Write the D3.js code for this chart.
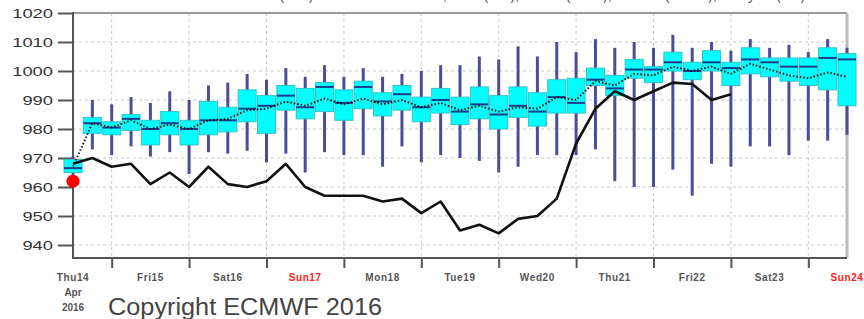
<!DOCTYPE html>
<html>
<head>
<meta charset="utf-8">
<script src="https://cdn.jsdelivr.net/npm/d3@7"></script>
<style>
  body { margin: 0; background: #fff; }
  svg { display: block; font-family: "Liberation Sans", Arial, sans-serif; }
</style>
</head>
<body>
<svg width="864" height="319"></svg>
<script>
// forecast steps (hours from Thu 14 Apr 12 UTC)
var steps = [0,6,12,18,24,30,36,42,48,54,60,66,72,78,84,90,96,102,108,114,120,
  126,132,138,144,150,156,162,168,174,180,186,192,198,204,210,216,222,228,234,240];

// ensemble box values (hPa)
var ensMin = [964,973,971,974,970.5,972,964.5,972,971.5,972.5,968.5,971.5,965,972,971,971,967,974,968.5,971,
  970,969,965,967,971,971,971,973,962,960,960,966,957,968,967,974,974,971,976,976,978];
var ensQ1 = [965,978.5,978,979.5,974.5,978,974.5,978,979,982.5,978.5,986.5,983.5,986,983,987,984.5,986.5,982.5,985.5,
  981.5,983.5,980,984,981,985.5,985.5,995,991.5,997.5,996,1000,997,1000,995,999,998,996.5,995,993.5,988];
var ensMed = [966.5,982,980.5,983.5,980,982,980,983,983,987,988,991.5,987.5,994.5,989,994.5,989.5,992,987.5,990,
  986,988.5,985,988,986,991,989,997,994,1000.5,1000.5,1003,1000,1003,1001,1004,1003,1001.5,1001.5,1004.5,1004];
var ensQ3 = [969.5,984,982.5,985,983,986,983,989.5,987.5,993.5,991.5,995,994,996,993.5,996.5,992.5,995,991,994,
  991,994.5,991.5,994.5,992.5,997,997.5,1001,998.5,1004,1001.5,1006.5,1003,1007,1003,1008,1004.5,1004.5,1004.5,1008,1006];
var ensMax = [970.5,990,988.5,991,989,993,990,995,996,999,997,1001,998,1002,998,1001,998,999,1000,1002,
  1002,1005,1004,1008.5,1005,1010,1006.5,1011,1008,1010,1008,1012.5,1008,1010,1007,1011,1008,1009,1006.5,1011,1008];
var ensMean = [967,982,980.5,983,980,981.5,980,983,983.5,986.5,987,989.5,988,990.5,988.5,990.5,988.5,990,987.5,989,
  986.5,988,986,987.5,987,991,990,996.5,995,999,998.5,1001.5,1000,1001.5,999,1002.5,1000.5,998.5,997.5,999.5,998];

// high resolution run (black line)
var hresSteps = steps.slice(0, 35);
var hres = [968,970,967,968,961,965,960,967,961,960,962,968,960,957,957,957,955,956,951,955,
  945,947,944,949,950,956,975,987,993,990,993,996,995.5,990,992];

// analysis (red dot)
var analysis = 962;

var yTicks = [940,950,960,970,980,990,1000,1010,1020];
var dayLabels = ["Thu14","Fri15","Sat16","Sun17","Mon18","Tue19","Wed20","Thu21","Fri22","Sat23","Sun24"];
var dayHours = [0,24,48,72,96,120,144,168,192,216,240];
var midnights = [12,36,60,84,108,132,156,180,204,228];

var svg = d3.select("svg");

var x = d3.scaleLinear().domain([0, 240]).range([73, 847]);
var y = d3.scaleLinear().domain([940, 1020]).range([245, 13]);
var yBottom = 258;

// title, mostly cut off above the picture (as in the original)
svg.append("text")
  .attr("x", 460).attr("y", 0)
  .attr("text-anchor", "middle")
  .attr("font-size", 14)
  .attr("fill", "#555")
  .text("Mean Sea Level Pressure (hPa) reduced to sea level, ENS (box), HRES (black), Control (dotted), Analysis (red)");

// grid
var grid = svg.append("g")
  .attr("stroke", "#c8c8c8")
  .attr("stroke-width", 1)
  .attr("stroke-dasharray", "3,3");
grid.selectAll(".hg")
  .data(yTicks.filter(function(d) { return d < 1020; }))
  .enter().append("line")
  .attr("x1", x(0)).attr("x2", x(240))
  .attr("y1", function(d) { return y(d); })
  .attr("y2", function(d) { return y(d); });
grid.selectAll(".vg")
  .data(midnights)
  .enter().append("line")
  .attr("y1", y(1020)).attr("y2", yBottom)
  .attr("x1", function(d) { return x(d); })
  .attr("x2", function(d) { return x(d); });

// frame
svg.append("line").attr("x1", x(0)).attr("x2", x(240)).attr("y1", y(1020)).attr("y2", y(1020))
  .attr("stroke", "#999").attr("stroke-width", 2);
svg.append("line").attr("x1", x(240)).attr("x2", x(240)).attr("y1", y(1020)).attr("y2", yBottom)
  .attr("stroke", "#bbb").attr("stroke-width", 3);

// y axis
var yAxis = svg.append("g").attr("transform", "translate(" + x(0) + ",0)")
  .call(d3.axisLeft(y).tickValues(yTicks).tickSize(15).tickPadding(5).tickFormat(d3.format("d")));
yAxis.select(".domain").remove();
yAxis.selectAll(".tick line").attr("stroke", "#555").attr("stroke-width", 2);
yAxis.selectAll(".tick text")
  .attr("font-family", "Liberation Sans, Arial, sans-serif")
  .attr("font-size", 13)
  .attr("fill", "#333")
  .attr("textLength", function(d) { return String(d).length * 10.2; })
  .attr("lengthAdjust", "spacingAndGlyphs");
svg.append("line").attr("x1", x(0)).attr("x2", x(0)).attr("y1", y(1020) - 1).attr("y2", yBottom + 1)
  .attr("stroke", "#555").attr("stroke-width", 2);

// x axis
var xAxis = svg.append("g").attr("transform", "translate(0," + yBottom + ")")
  .call(d3.axisBottom(x).tickValues(midnights).tickSize(10).tickFormat(""));
xAxis.select(".domain").remove();
xAxis.selectAll(".tick line").attr("stroke", "#555").attr("stroke-width", 2);
svg.append("line").attr("x1", x(0) - 1).attr("x2", x(240)).attr("y1", yBottom).attr("y2", yBottom)
  .attr("stroke", "#555").attr("stroke-width", 2);

svg.append("g").selectAll("text")
  .data(dayLabels)
  .enter().append("text")
  .attr("x", function(d, i) { return x(dayHours[i]); })
  .attr("y", 281)
  .attr("text-anchor", "middle")
  .attr("font-size", 10)
  .attr("font-weight", "bold")
  .attr("letter-spacing", 0.6)
  .attr("fill", function(d) { return d.indexOf("Sun") == 0 ? "#f22" : "#555"; })
  .text(function(d) { return d; });
svg.append("text").attr("x", x(0)).attr("y", 296).attr("text-anchor", "middle")
  .attr("font-size", 10).attr("font-weight", "bold").attr("fill", "#555").text("Apr");
svg.append("text").attr("x", x(0)).attr("y", 311).attr("text-anchor", "middle")
  .attr("font-size", 10).attr("font-weight", "bold").attr("fill", "#555").text("2016");

// whiskers
var boxW = 18;
svg.append("g").selectAll("line")
  .data(steps)
  .enter().append("line")
  .attr("x1", function(d) { return x(d); })
  .attr("x2", function(d) { return x(d); })
  .attr("y1", function(d, i) { return y(ensMax[i]); })
  .attr("y2", function(d, i) { return y(ensMin[i]); })
  .attr("stroke", "#4c4c98")
  .attr("stroke-width", 3);

// boxes
svg.append("g").selectAll("rect")
  .data(steps)
  .enter().append("rect")
  .attr("x", function(d) { return x(d) - boxW / 2; })
  .attr("width", boxW)
  .attr("y", function(d, i) { return y(ensQ3[i]); })
  .attr("height", function(d, i) { return y(ensQ1[i]) - y(ensQ3[i]); })
  .attr("fill", "#00ffff")
  .attr("stroke", "#33c4c4")
  .attr("stroke-width", 1);

// medians
svg.append("g").selectAll("line")
  .data(steps)
  .enter().append("line")
  .attr("x1", function(d) { return x(d) - boxW / 2; })
  .attr("x2", function(d) { return x(d) + boxW / 2; })
  .attr("y1", function(d, i) { return y(ensMed[i]); })
  .attr("y2", function(d, i) { return y(ensMed[i]); })
  .attr("stroke", "#1c3c8c")
  .attr("stroke-width", 2);

// hres line
svg.append("path")
  .datum(hres)
  .attr("fill", "none")
  .attr("stroke", "#111")
  .attr("stroke-width", 2.6)
  .attr("stroke-linejoin", "round")
  .attr("d", d3.line()
    .x(function(d, i) { return x(hresSteps[i]); })
    .y(function(d) { return y(d); }));

// control / mean dotted line
svg.append("path")
  .datum(ensMean)
  .attr("fill", "none")
  .attr("stroke", "#111")
  .attr("stroke-width", 2)
  .attr("stroke-dasharray", "1.5,2")
  .attr("d", d3.line()
    .x(function(d, i) { return x(steps[i]); })
    .y(function(d) { return y(d); }));

// analysis dot
svg.append("circle")
  .attr("cx", x(0)).attr("cy", y(analysis)).attr("r", 6.5)
  .attr("fill", "#f00");

// copyright
svg.append("text")
  .attr("x", 108).attr("y", 315)
  .attr("font-size", 23)
  .attr("fill", "#444")
  .attr("textLength", 274)
  .attr("lengthAdjust", "spacingAndGlyphs")
  .text("Copyright ECMWF 2016");
</script>
</body>
</html>
